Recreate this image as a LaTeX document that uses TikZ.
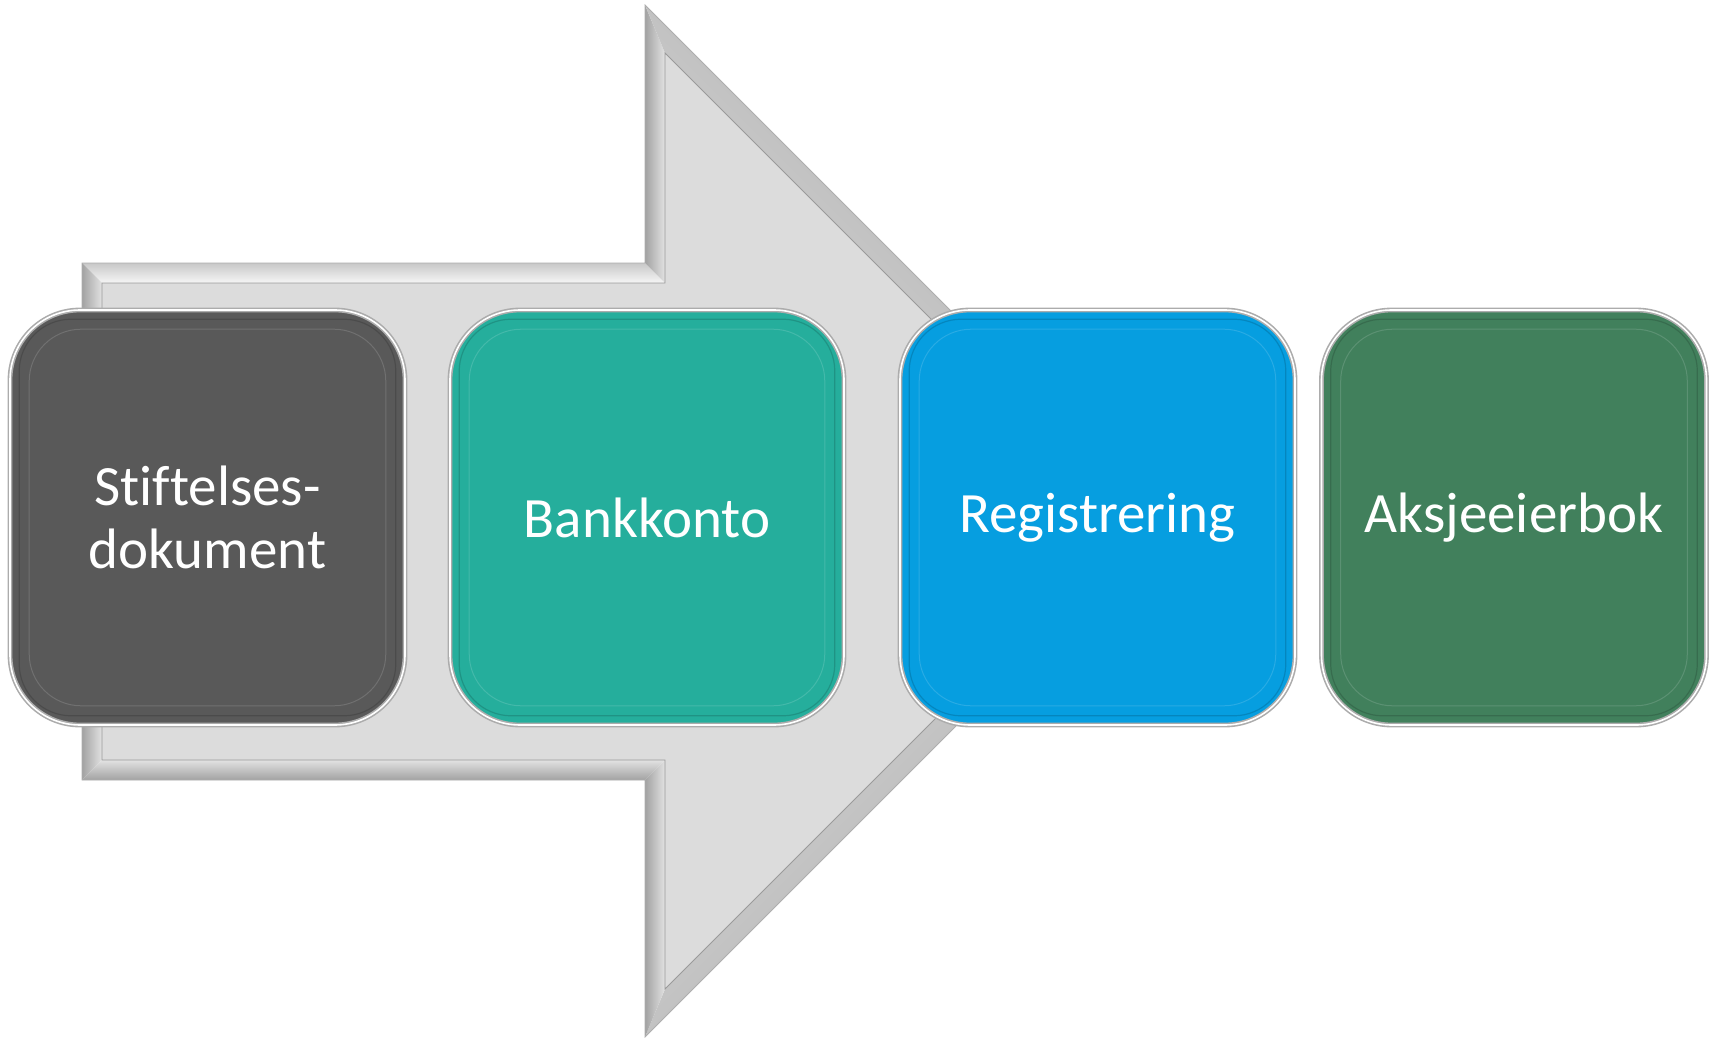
\documentclass[tikz,border=0pt]{standalone}
\usepackage{fontspec}
\setmainfont{Carlito}[Ligatures=NoCommon]
\definecolor{arrfill}{HTML}{DCDCDC}
\definecolor{outerA}{HTML}{C8C8C8}
\definecolor{innerA}{HTML}{F6F6F6}
\definecolor{outerB}{HTML}{A2A2A2}
\definecolor{innerB}{HTML}{E2E2E2}
\definecolor{edgegray}{HTML}{9A9A9A}
\definecolor{cGray}{HTML}{595959}
\definecolor{cTeal}{HTML}{25AE9C}
\definecolor{cBlue}{HTML}{069EE0}
\definecolor{cGreen}{HTML}{41805C}
\tikzset{
  tile/.style={rounded corners=70pt, draw=gray!65, line width=1.6pt,
    double=white, double distance=1.6pt,
    minimum height=415pt, inner sep=0pt, align=center, text=white,
    font=\fontsize{57}{63}\selectfont},
  ring/.style={rounded corners=52pt, line width=1.2pt},
  bandlight/.style={top color=outerA, bottom color=innerA},
  banddark/.style={top color=outerB, bottom color=innerB},
}
\begin{document}
\begin{tikzpicture}[x=1pt,y=-1pt]
\useasboundingbox (0,0) rectangle (1709,1038);
% arrow bevel bands
\shade[bandlight] (82,263) -- (645,263) -- (665,283) -- (102,283) -- cycle;
\shade[banddark, shading angle=90] (82,263) -- (102,283) -- (102,760) -- (82,780) -- cycle;
\shade[banddark, shading angle=90] (645,263) -- (645,5) -- (665,53) -- (665,283) -- cycle;
\shade[banddark, shading angle=-45] (645,5) -- (1161,521) -- (1133,521) -- (665,53) -- cycle;
\shade[banddark, shading angle=-135] (1161,521) -- (645,1037) -- (665,989) -- (1133,521) -- cycle;
\shade[banddark, shading angle=90] (645,1037) -- (645,780) -- (665,760) -- (665,989) -- cycle;
\shade[banddark, shading angle=180] (645,780) -- (82,780) -- (102,760) -- (665,760) -- cycle;
% arrow inner face
\fill[arrfill, draw=edgegray, line width=0.8pt]
  (102,283) -- (665,283) -- (665,53) -- (1133,521) -- (665,989) -- (665,760) -- (102,760) -- cycle;
% arrow outline
\draw[edgegray!80, line width=0.8pt]
  (82,263) -- (645,263) -- (645,5) -- (1161,521) -- (645,1037) -- (645,780) -- (82,780) -- cycle;
% tiles
\node[tile, fill=cGray, minimum width=395pt] (s1) at (207.5,517.5) {Stiftelses-\\dokument};
\node[tile, fill=cTeal, minimum width=394pt] (s2) at (647,517.5) {Bankkonto};
\node[tile, fill=cBlue, minimum width=395pt] (s3) at (1097.5,517.5) {Registrering};
\node[tile, fill=cGreen, minimum width=385pt] (s4) at (1514,517.5) {Aksjeeierbok};
% inner rings for bevel effect
\foreach \n/\c in {s1/cGray, s2/cTeal, s3/cBlue, s4/cGreen}{
  \draw[ring, draw=\c!75!black, opacity=0.6]
    ([shift={(10,10)}]\n.north west) rectangle ([shift={(-10,-10)}]\n.south east);
  \draw[ring, draw=\c!80!white, opacity=0.7, line width=1pt]
    ([shift={(20,20)}]\n.north west) rectangle ([shift={(-20,-20)}]\n.south east);
}
\end{tikzpicture}
\end{document}
